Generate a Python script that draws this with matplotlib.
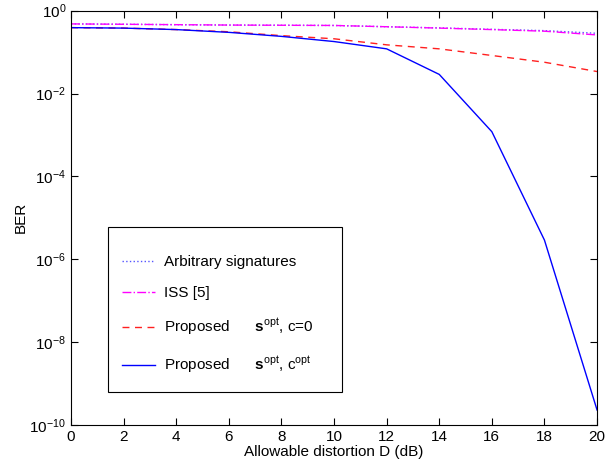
import matplotlib
matplotlib.use("Agg")
import matplotlib.pyplot as plt
from matplotlib.patches import Rectangle

plt.rcParams['font.family'] = ['Liberation Sans', 'DejaVu Sans']
plt.rcParams['mathtext.fontset'] = 'custom'
plt.rcParams['mathtext.rm'] = 'Liberation Sans'
plt.rcParams['mathtext.bf'] = 'Liberation Sans:bold'
plt.rcParams['font.size'] = 11

D = [0, 2, 4, 6, 8, 10, 12, 14, 16, 18, 20]

ber_arbitrary = [0.48, 0.47, 0.46, 0.45, 0.445, 0.44, 0.41, 0.385, 0.355, 0.33, 0.285]
ber_iss = [0.48, 0.47, 0.46, 0.45, 0.445, 0.44, 0.41, 0.38, 0.35, 0.32, 0.26]
ber_c0 = [0.39, 0.38, 0.35, 0.31, 0.25, 0.21, 0.15, 0.12, 0.083, 0.057, 0.034]
ber_copt = [0.39, 0.38, 0.35, 0.30, 0.24, 0.18, 0.12, 0.029, 1.2e-3, 2.9e-6, 2.3e-10]

fig = plt.figure(figsize=(6.11, 4.65), dpi=100)
ax = fig.add_axes([0.1162, 0.086, 0.861, 0.891])

ax.semilogy(D, ber_arbitrary, ':', color="#5555ff", lw=1, label="Arbitrary signatures")
ax.semilogy(D, ber_iss, '-.', color="#ff00ff", lw=1, label="ISS [5]")
ax.semilogy(D, ber_c0, '--', color="#ff2020", lw=1, dashes=(5, 4), label=r"Proposed      $\mathbf{s}^{\rm opt}$, c=0")
ax.semilogy(D, ber_copt, '-', color="#0000ff", lw=1, label=r"Proposed      $\mathbf{s}^{\rm opt}$, c$^{\rm opt}$")

ax.set_xlim(0, 20)
ax.set_ylim(1e-10, 1)
ax.set_xticks(range(0, 21, 2))
ax.set_yticks([1e-10, 1e-8, 1e-6, 1e-4, 1e-2, 1])
ax.minorticks_off()
ax.tick_params(direction='in', top=True, right=True, length=5, width=0.8, labelsize=11)
ax.set_xlabel("Allowable distortion D (dB)", labelpad=1)
ax.set_ylabel("BER", labelpad=1)

# legend box drawn separately so the padding can match the original
ax.add_patch(Rectangle((0.070, 0.080), 0.445, 0.398, transform=ax.transAxes,
                       facecolor='white', edgecolor='black', lw=0.8, zorder=4))
leg = ax.legend(loc='upper left', bbox_to_anchor=(0.096, 0.41), frameon=False,
                labelspacing=1.1, borderpad=0, handlelength=2.2,
                handletextpad=0.6, borderaxespad=0)
leg.set_zorder(5)

fig.savefig("out.png", dpi=100)
